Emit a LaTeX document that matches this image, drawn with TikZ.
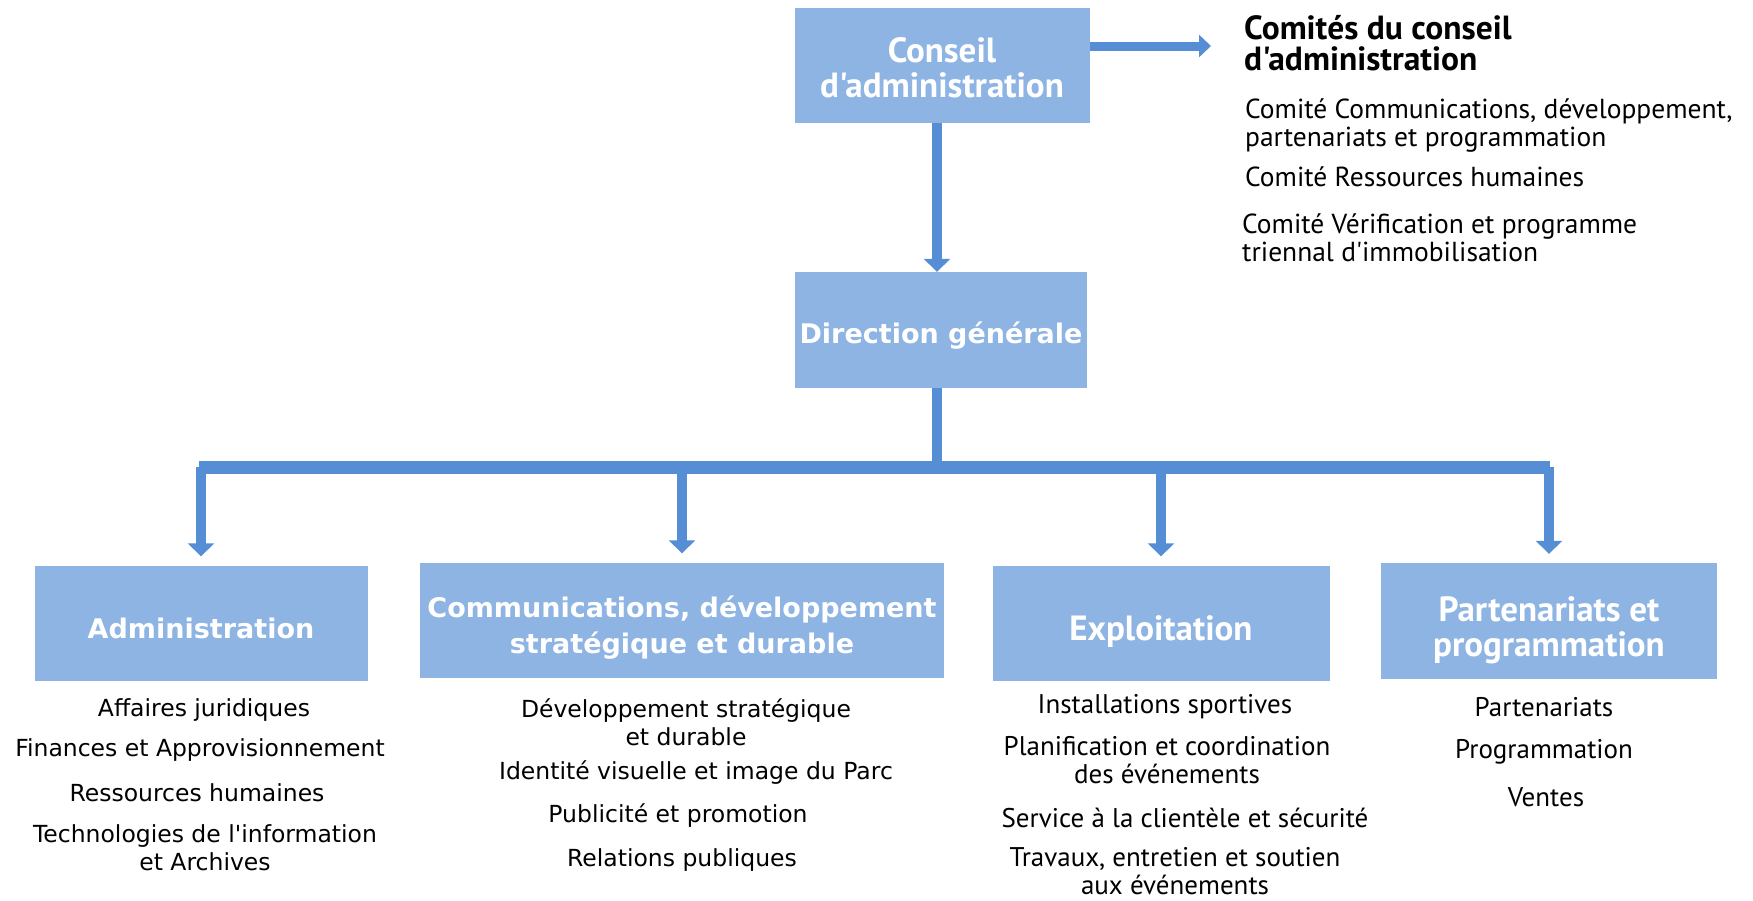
\documentclass[tikz,border=0pt]{standalone}
\usepackage{fontspec}
\setmainfont{DejaVu Sans}
\newfontfamily\luc{DejaVu Sans}
\newfontfamily\cond{PT Sans}
\usetikzlibrary{arrows.meta}
\definecolor{boxfill}{HTML}{8EB4E3}
\definecolor{arrowc}{HTML}{558ED5}
\tikzset{
 box/.style={fill=boxfill, inner sep=0pt},
 btext/.style={text=white, inner sep=0pt, align=center, text depth=0pt, font=\luc\bfseries\fontsize{27}{36}\selectfont},
 ctext/.style={btext, font=\cond\bfseries\fontsize{35}{35}\selectfont},
 item/.style={align=center, inner sep=0pt, font=\luc\fontsize{23.5}{28}\selectfont},
 citem/.style={align=center, inner sep=0pt, font=\cond\fontsize{27}{28}\selectfont},
 comitem/.style={citem, anchor=west, align=left, font=\cond\fontsize{27.5}{28}\selectfont},
 conn/.style={draw=arrowc, line width=10pt, -{Triangle[width=26pt,length=13pt]}},
}
\begin{document}
\begin{tikzpicture}[x=1pt,y=-1pt]
\useasboundingbox (0,0) rectangle (1753,900);
% boxes
\node[box, minimum width=295pt, minimum height=115pt] (conseil) at (942,65) {};
\node[box, minimum width=292pt, minimum height=116pt] (direction) at (941,330) {};
\node[box, minimum width=333pt, minimum height=115pt] (admin) at (201,623) {};
\node[box, minimum width=524pt, minimum height=115pt] (comm) at (682,620) {};
\node[box, minimum width=337pt, minimum height=115pt] (exploit) at (1161,623) {};
\node[box, minimum width=336pt, minimum height=116pt] (part) at (1549,621) {};
\node[ctext] (conseilt) at ([yshift=-3pt]conseil.center) {Conseil\\d'administration};
\node[btext] (directiont) at ([yshift=-3pt]direction.center) {Direction générale};
\node[btext] (admint) at ([yshift=-5pt]admin.center) {Administration};
\node[btext] (commt) at ([yshift=-5pt]comm.center) {Communications, développement\\stratégique et durable};
\node[ctext] (exploitt) at ([yshift=-5pt]exploit.center) {Exploitation};
\node[ctext] (partt) at ([yshift=-6pt]part.center) {Partenariats et\\programmation};
% committees
\coordinate (comtip) at (1211,46);
\node[anchor=west, align=left, inner sep=0pt, font=\cond\bfseries\fontsize{33.5}{31}\selectfont] (comites) at (1244,43) {Comités du conseil\\d'administration};
\node[comitem] (c1) at (1245,126) {Comité Communications, développement,\\partenariats et programmation};
\node[comitem] (c2) at (1245,177) {Comité Ressources humaines};
\node[comitem] (c3) at (1242,238) {Comité Vérification et programme\\triennal d'immobilisation};
% connectors
\draw[conn, line width=9pt, -{Triangle[width=22pt,length=12pt]}] (conseil.east |- comtip) -- (comtip);
\draw[conn] (conseil.south -| 937,0) -- (direction.north -| 937,0);
\coordinate (bl) at (199,467);
\coordinate (br) at (1550,467);
\coordinate (bj) at (937,467);
\draw[draw=arrowc, line width=10pt] (direction.south -| bj) -- (bj);
\draw[draw=arrowc, line width=13pt] (bl) -- (br);
\draw[conn, shorten >=9pt] (admin.north |- bl) -- (admin.north);
\draw[conn, shorten >=9pt] (comm.north |- bl) -- (comm.north);
\draw[conn, shorten >=9pt] (exploit.north |- bl) -- (exploit.north);
\draw[conn, shorten >=9pt] (part.north |- bl) -- (part.north);
% items
\node[item] (a1) at (204,710) {Affaires juridiques};
\node[item] (a2) at (200,750) {Finances et Approvisionnement};
\node[item] (a3) at (197,793) {Ressources humaines};
\node[item] (a4) at (205,848) {Technologies de l'information\\et Archives};
\node[item] (m1) at (686,722) {Développement stratégique\\et durable};
\node[item] (m2) at (696,773) {Identité visuelle et image du Parc};
\node[item] (m3) at (678,816) {Publicité et promotion};
\node[item] (m4) at (682,860) {Relations publiques};
\node[citem] (e1) at (1165,707) {Installations sportives};
\node[citem] (e2) at (1167,760) {Planification et coordination\\des événements};
\node[citem] (e3) at (1185,818) {Service à la clientèle et sécurité};
\node[citem] (e4) at (1175,871) {Travaux, entretien et soutien\\aux événements};
\node[citem] (p1) at (1544,707) {Partenariats};
\node[citem] (p2) at (1544,752) {Programmation};
\node[citem] (p3) at (1546,797) {Ventes};
\end{tikzpicture}
\end{document}
